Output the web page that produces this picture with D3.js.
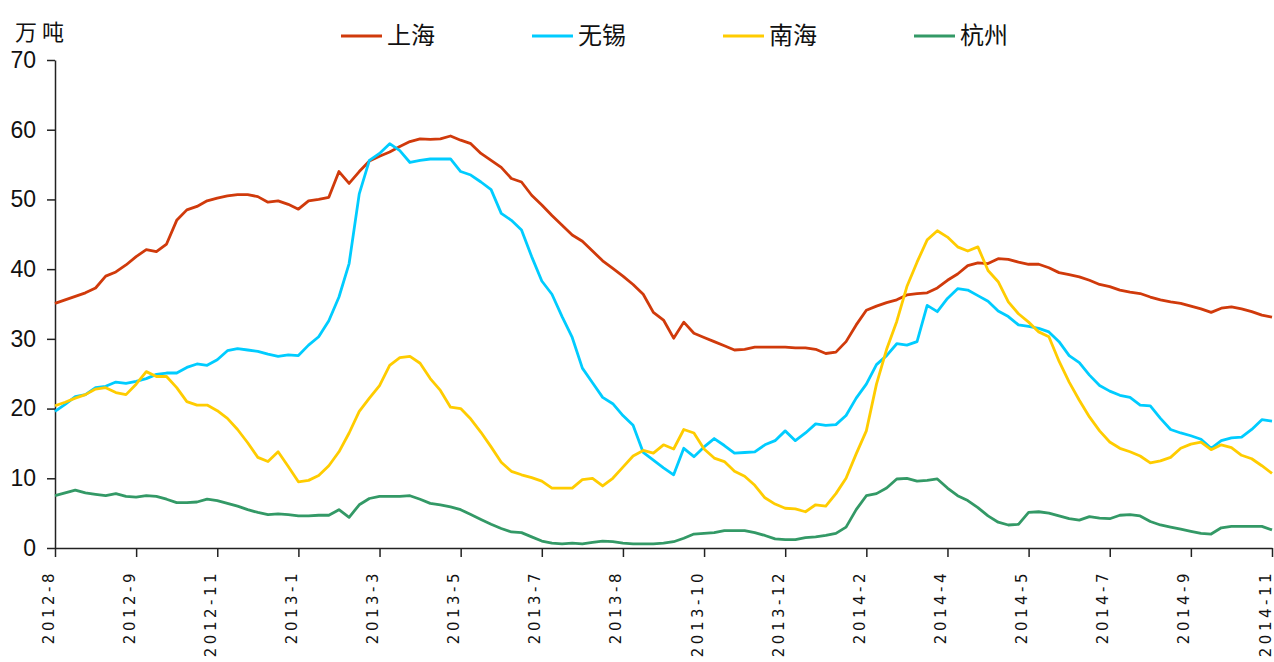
<!DOCTYPE html>
<html>
<head>
<meta charset="utf-8">
<script src="https://cdn.jsdelivr.net/npm/d3@7"></script>
<style>
  body { margin: 0; background: #fff; }
  svg { display: block; }
  .axis path, .axis line { stroke: #222; stroke-width: 1.5; }
  .axis text { fill: #111; }
</style>
</head>
<body>
<svg id="chart" width="1274" height="662"></svg>
<script>
// tick labels, one every 8 weekly points
var dates = ["2012-8", "2012-9", "2012-11", "2013-1", "2013-3", "2013-5", "2013-7", "2013-8",
    "2013-10", "2013-12", "2014-2", "2014-4", "2014-5", "2014-7", "2014-9", "2014-11"];
var seriesNames = ["上海", "无锡", "南海", "杭州"];
var yTicks = [0, 10, 20, 30, 40, 50, 60, 70];

// weekly stock, 万吨
var shanghai = [35.1, 35.6, 36.1, 36.6, 37.3, 39.0, 39.6, 40.6, 41.8, 42.8,
    42.5, 43.6, 47.0, 48.5, 49.0, 49.8, 50.2, 50.5, 50.7, 50.7,
    50.4, 49.6, 49.8, 49.3, 48.6, 49.8, 50.0, 50.3, 54.0, 52.3,
    54.0, 55.5, 56.2, 56.8, 57.6, 58.3, 58.7, 58.6, 58.7, 59.1,
    58.5, 58.0, 56.6, 55.6, 54.6, 53.0, 52.5, 50.6, 49.2, 47.7,
    46.3, 44.9, 44.0, 42.6, 41.2, 40.1, 39.0, 37.8, 36.4, 33.8,
    32.7, 30.1, 32.4, 30.8, 30.2, 29.6, 29.0, 28.4, 28.5, 28.8,
    28.8, 28.8, 28.8, 28.7, 28.7, 28.5, 27.9, 28.1, 29.6, 32.0,
    34.1, 34.7, 35.2, 35.6, 36.3, 36.5, 36.6, 37.3, 38.4, 39.3,
    40.5, 40.9, 40.8, 41.5, 41.4, 41.0, 40.7, 40.7, 40.2, 39.5,
    39.2, 38.9, 38.4, 37.8, 37.5, 37.0, 36.7, 36.5, 36.0, 35.6,
    35.3, 35.1, 34.7, 34.3, 33.8, 34.4, 34.6, 34.3, 33.9, 33.4,
    33.1];
var wuxi = [19.6, 20.6, 21.7, 22.0, 23.0, 23.2, 23.8, 23.6, 23.9, 24.3,
    24.9, 25.1, 25.1, 25.9, 26.4, 26.2, 27.0, 28.3, 28.6, 28.4,
    28.2, 27.8, 27.5, 27.7, 27.6, 29.1, 30.3, 32.6, 36.0, 40.8,
    50.8, 55.6, 56.6, 58.0, 57.0, 55.3, 55.6, 55.8, 55.8, 55.8,
    54.0, 53.5, 52.5, 51.4, 48.0, 47.0, 45.6, 41.8, 38.3, 36.4,
    33.2, 30.2, 25.8, 23.7, 21.6, 20.7, 19.0, 17.6, 13.7, 12.6,
    11.5, 10.5, 14.3, 13.1, 14.5, 15.7, 14.7, 13.6, 13.7, 13.8,
    14.8, 15.4, 16.8, 15.4, 16.5, 17.8, 17.6, 17.7, 19.0, 21.5,
    23.5, 26.3, 27.6, 29.3, 29.1, 29.6, 34.8, 33.9, 35.8, 37.2,
    37.0, 36.2, 35.4, 34.0, 33.2, 32.0, 31.8, 31.5, 31.0, 29.6,
    27.6, 26.6, 24.8, 23.3, 22.5, 21.9, 21.6, 20.5, 20.4, 18.6,
    17.0, 16.5, 16.1, 15.6, 14.3, 15.4, 15.8, 15.9, 17.0, 18.4,
    18.2];
var nanhai = [20.4, 20.9, 21.5, 22.0, 22.8, 23.0, 22.3, 22.0, 23.5, 25.3,
    24.6, 24.6, 23.0, 21.0, 20.5, 20.5, 19.7, 18.6, 17.0, 15.1,
    13.0, 12.4, 13.8, 11.7, 9.5, 9.7, 10.4, 11.8, 13.8, 16.5,
    19.6, 21.5, 23.3, 26.2, 27.3, 27.5, 26.5, 24.3, 22.6, 20.2,
    20.0, 18.5, 16.6, 14.5, 12.3, 11.0, 10.5, 10.1, 9.6, 8.6,
    8.6, 8.6, 9.8, 10.0, 8.9, 10.0, 11.6, 13.2, 14.0, 13.6,
    14.8, 14.2, 17.0, 16.5, 14.2, 12.9, 12.4, 11.0, 10.3, 9.0,
    7.2, 6.3, 5.7, 5.6, 5.2, 6.2, 6.0, 7.8, 10.0, 13.5,
    16.8, 23.5, 28.5, 32.5, 37.5, 41.0, 44.2, 45.5, 44.6, 43.2,
    42.6, 43.2, 39.8, 38.2, 35.3, 33.6, 32.4, 31.0, 30.3, 26.8,
    23.8, 21.2, 18.8, 16.8, 15.2, 14.3, 13.8, 13.2, 12.2, 12.5,
    13.0, 14.3, 14.9, 15.2, 14.1, 14.8, 14.4, 13.3, 12.8, 11.8,
    10.7];
var hangzhou = [7.5, 7.9, 8.3, 7.9, 7.7, 7.5, 7.8, 7.4, 7.3, 7.5,
    7.4, 7.0, 6.5, 6.5, 6.6, 7.0, 6.8, 6.4, 6.0, 5.5,
    5.1, 4.8, 4.9, 4.8, 4.6, 4.6, 4.7, 4.7, 5.5, 4.4,
    6.2, 7.1, 7.4, 7.4, 7.4, 7.5, 7.0, 6.4, 6.2, 5.9,
    5.5, 4.8, 4.1, 3.4, 2.8, 2.3, 2.2, 1.6, 1.0, 0.7,
    0.6, 0.7, 0.6, 0.8, 1.0, 0.9, 0.7, 0.6, 0.6, 0.6,
    0.7, 0.9, 1.4, 2.0, 2.1, 2.2, 2.5, 2.5, 2.5, 2.2,
    1.8, 1.3, 1.2, 1.2, 1.5, 1.6, 1.8, 2.1, 3.0, 5.5,
    7.5, 7.8, 8.6, 9.9, 10.0, 9.6, 9.7, 9.9, 8.6, 7.5,
    6.8, 5.8, 4.6, 3.7, 3.3, 3.4, 5.1, 5.2, 5.0, 4.6,
    4.2, 4.0, 4.5, 4.3, 4.2, 4.7, 4.8, 4.6, 3.8, 3.3,
    3.0, 2.7, 2.4, 2.1, 2.0, 2.9, 3.1, 3.1, 3.1, 3.1,
    2.6];

var colors = ["#d03a0b", "#00ccff", "#ffcc00", "#339966"];
var series = [shanghai, wuxi, nanhai, hangzhou];

var svg = d3.select("#chart"),
    margin = { top: 60, right: 2, bottom: 114, left: 55 },
    width = +svg.attr("width") - margin.left - margin.right,
    height = +svg.attr("height") - margin.top - margin.bottom;

var x = d3.scaleLinear().domain([0, shanghai.length - 1]).range([0, width]);
var y = d3.scaleLinear().domain([0, 70]).range([height, 0]);

var g = svg.append("g")
    .attr("transform", "translate(" + margin.left + "," + margin.top + ")");

// axes
var xAxis = g.append("g")
    .attr("class", "x axis")
    .attr("transform", "translate(0," + height + ")")
    .call(d3.axisBottom(x)
        .tickValues(dates.map(function (d, i) { return i * 8; }))
        .tickFormat(function (d) { return dates[d / 8]; })
        .tickSize(9)
        .tickSizeOuter(0));
xAxis.selectAll("text")
    .attr("transform", "rotate(-90)")
    .attr("x", -22)
    .attr("y", -2)
    .attr("dy", 0)
    .style("text-anchor", "end")
    .style("font-family", "'DejaVu Sans', sans-serif")
    .style("font-size", "15px")
    .style("letter-spacing", "3.5px");

var yAxis = g.append("g")
    .attr("class", "y axis")
    .call(d3.axisLeft(y)
        .tickValues(yTicks)
        .tickSize(8)
        .tickPadding(11)
        .tickSizeOuter(0));
yAxis.selectAll("text")
    .style("font-family", "'Liberation Sans Narrow', 'Liberation Sans', sans-serif")
    .style("font-size", "23px");

// unit label
svg.append("text")
    .attr("x", 15)
    .attr("y", 40)
    .style("font-family", "'Noto Sans CJK SC', sans-serif")
    .style("font-size", "22px")
    .style("letter-spacing", "5px")
    .style("fill", "#111")
    .text("万吨");

// lines
var line = d3.line()
    .x(function (d, i) { return x(i); })
    .y(function (d) { return y(d); });

g.selectAll(".series")
    .data(series)
    .enter().append("path")
    .attr("class", "series")
    .attr("fill", "none")
    .attr("stroke", function (d, i) { return colors[i]; })
    .attr("stroke-width", 2.8)
    .attr("stroke-linejoin", "round")
    .attr("d", line);

// legend
var legend = svg.selectAll(".legend")
    .data(seriesNames)
    .enter().append("g")
    .attr("class", "legend")
    .attr("transform", function (d, i) { return "translate(" + (341 + i * 191) + ",36)"; });
legend.append("line")
    .attr("x1", 0).attr("x2", 41)
    .attr("stroke", function (d, i) { return colors[i]; })
    .attr("stroke-width", 3);
legend.append("text")
    .attr("x", 46)
    .attr("y", 8)
    .style("font-family", "'Noto Sans CJK SC', sans-serif")
    .style("font-size", "24px")
    .style("fill", "#111")
    .text(function (d) { return d; });
</script>
</body>
</html>
